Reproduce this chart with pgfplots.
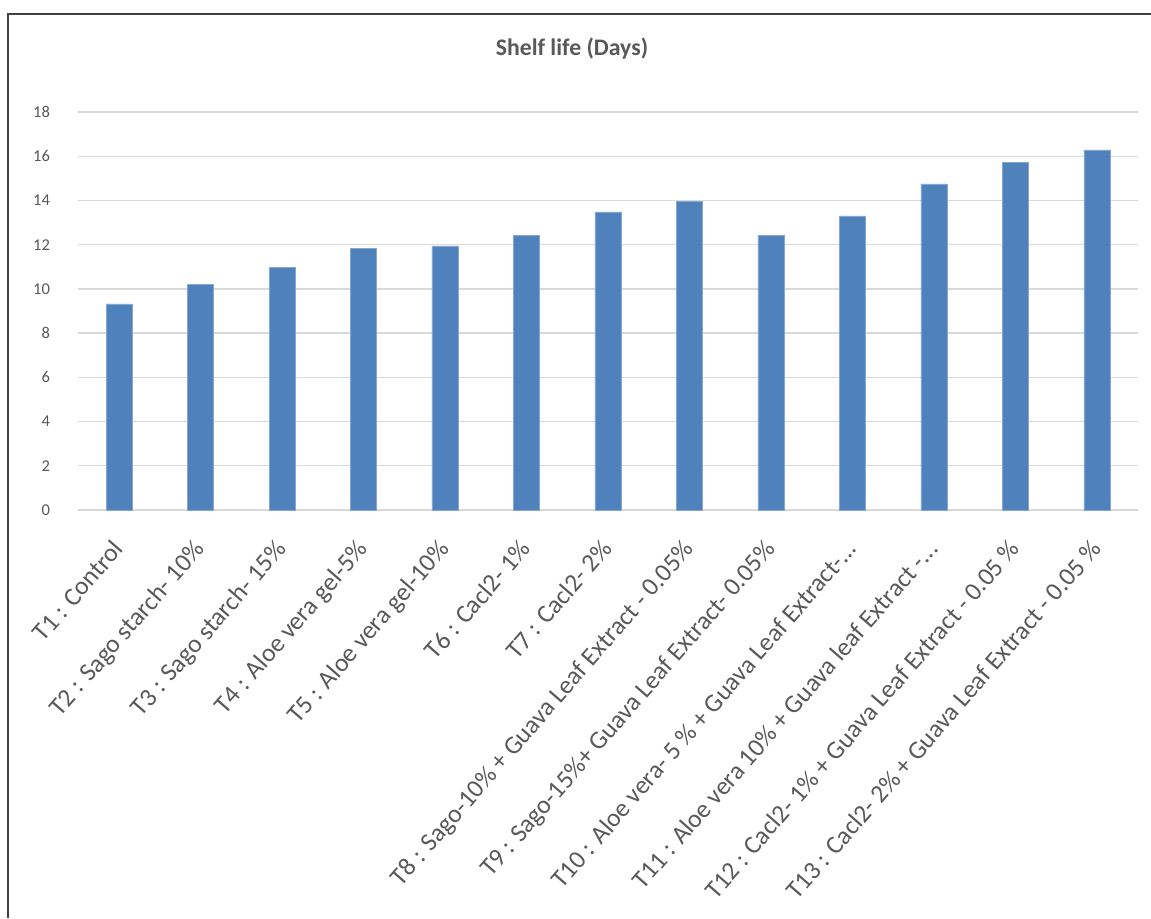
\documentclass[border=0pt]{standalone}
\usepackage{fontspec}
\setmainfont{Carlito}
\usepackage{pgfplots}
\pgfplotsset{compat=1.18}
\definecolor{barblue}{HTML}{4F81BD}
\definecolor{txtgray}{HTML}{595959}
\definecolor{gridgray}{HTML}{D9D9D9}
\newcommand\tdots{.\kern0pt.\kern0pt.}
\begin{document}
\begin{tikzpicture}[x=1pt,y=1pt]
\useasboundingbox (0,0) rectangle (863.25,688.5);
\fill[white] (0,0) rectangle (863.25,688.5);
\draw[line width=0.9pt, black!75] (6,0) -- (6,678) -- (863.25,678);
\node[font=\bfseries\fontsize{17.8}{20}\selectfont, text=txtgray] at (429,652) {Shelf life (Days)};
\begin{axis}[
  at={(58.69pt,306pt)}, anchor=south west,
  scale only axis, width=794.6pt, height=298.5pt,
  xmin=-0.5, xmax=12.5, ymin=0, ymax=18,
  ytick={0,2,4,6,8,10,12,14,16,18},
  xtick={0,1,2,3,4,5,6,7,8,9,10,11,12},
  xticklabels={{T1 : Control}, {T2 : Sago starch- 10\%}, {T3 : Sago starch- 15\%}, {T4 : Aloe vera gel-5\%}, {T5 : Aloe vera gel-10\%}, {T6 : Cacl2- 1\%}, {T7 : Cacl2- 2\%}, {T8 : Sago-10\% + Guava Leaf Extract - 0.05\%}, {T9 : Sago-15\%+ Guava Leaf Extract- 0.05\%}, {T10 : Aloe vera- 5 \% + Guava Leaf Extract-\tdots}, {T11 : Aloe vera 10\% + Guava leaf Extract -\tdots}, {T12 : Cacl2- 1\% + Guava Leaf Extract - 0.05 \%}, {T13 : Cacl2- 2\% + Guava Leaf Extract - 0.05 \%}},
  axis line style={draw=none},
  major tick length=0pt,
  ymajorgrids, grid style={gridgray, line width=1pt},
  /pgf/number format/assume math mode=true,
  yticklabel style={font=\fontsize{12.4}{14}\selectfont, text=txtgray, inner sep=0pt, anchor=east, xshift=-21pt},
  xticklabel style={xshift=-6pt, yshift=-21pt, font=\fontsize{19.2}{21}\selectfont, text=txtgray, inner sep=0pt, rotate=49, anchor=north east},
  ybar, bar width=19.5pt,
]
\addplot[fill=barblue, draw=barblue!70!white, line width=0.4pt] coordinates {
(0,9.32) (1,10.19) (2,10.98) (3,11.84) (4,11.95) (5,12.41) (6,13.48)
(7,13.97) (8,12.43) (9,13.30) (10,14.75) (11,15.71) (12,16.29)};
\end{axis}
\end{tikzpicture}
\end{document}
